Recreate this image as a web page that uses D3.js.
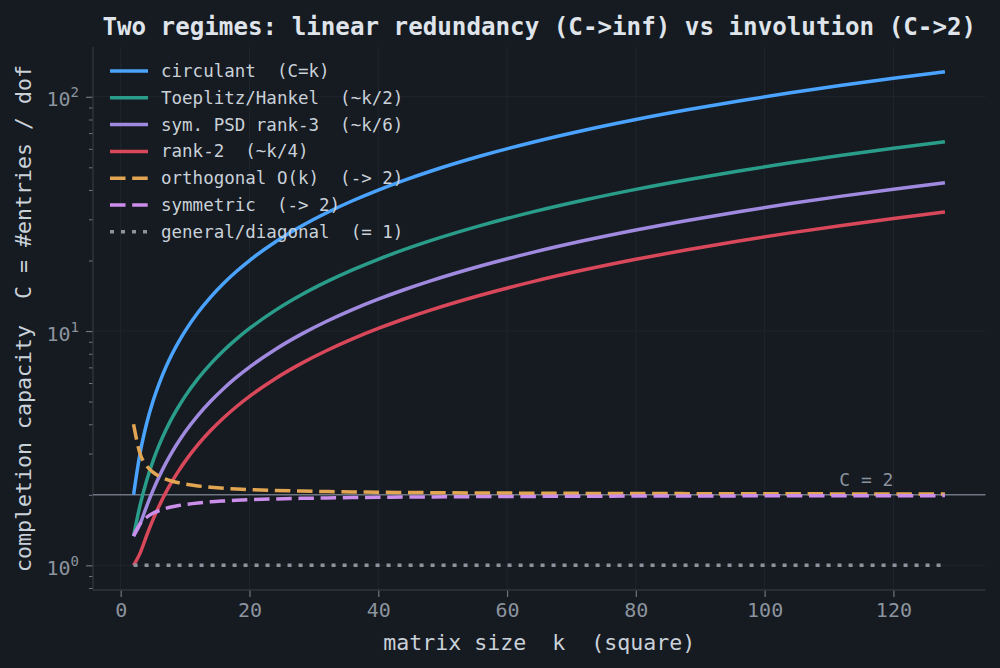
<!DOCTYPE html>
<html>
<head>
<meta charset="utf-8">
<script src="https://cdn.jsdelivr.net/npm/d3@7"></script>
<style>
  html, body { margin: 0; padding: 0; background: #161a21; }
  svg { display: block; }
  text { font-family: "DejaVu Sans Mono", monospace; }
</style>
</head>
<body>
<svg id="chart" width="1000" height="668"></svg>
<script>
// ---- data ----
const kValues = [2,3,4,5,6,7,8,9,10,12,14,16,18,20,24,28,32,36,40,44,48,56,64,72,80,88,96,104,112,120,128];
const circulant = [2,3,4,5,6,7,8,9,10,12,14,16,18,20,24,28,32,36,40,44,48,56,64,72,80,88,96,104,112,120,128];
const toeplitz = [1.333,1.8,2.286,2.778,3.273,3.769,4.267,4.765,5.263,6.261,7.259,8.258,9.257,10.256,12.255,14.255,16.254,18.254,20.253,22.253,24.253,28.252,32.252,36.252,40.252,44.251,48.251,52.251,56.251,60.251,64.251];
const symPsd3 = [1.333,1.5,1.778,2.083,2.4,2.722,3.048,3.375,3.704,4.364,5.026,5.689,6.353,7.018,8.348,9.679,11.011,12.343,13.675,15.008,16.34,19.006,21.672,24.338,27.004,29.67,32.337,35.003,37.67,40.336,43.003];
const rank2 = [1,1.125,1.333,1.5625,1.8,2.042,2.286,2.531,2.778,3.273,3.769,4.267,4.765,5.263,6.261,7.259,8.258,9.257,10.256,11.256,12.255,14.255,16.254,18.254,20.253,22.253,24.253,26.252,28.252,30.252,32.252];
const orthogonal = [4,3,2.667,2.5,2.4,2.333,2.286,2.25,2.222,2.182,2.154,2.133,2.118,2.105,2.087,2.074,2.065,2.057,2.051,2.047,2.043,2.036,2.032,2.028,2.025,2.023,2.021,2.019,2.018,2.017,2.016];
const symmetric = [1.333,1.5,1.6,1.667,1.714,1.75,1.778,1.8,1.818,1.846,1.867,1.882,1.895,1.905,1.92,1.931,1.939,1.946,1.951,1.956,1.959,1.965,1.969,1.973,1.975,1.978,1.979,1.981,1.982,1.983,1.984];
const general = [1,1,1,1,1,1,1,1,1,1,1,1,1,1,1,1,1,1,1,1,1,1,1,1,1,1,1,1,1,1,1];

const seriesNames = ["circulant  (C=k)","Toeplitz/Hankel  (~k/2)","sym. PSD rank-3  (~k/6)","rank-2  (~k/4)","orthogonal O(k)  (-> 2)","symmetric  (-> 2)","general/diagonal  (= 1)"];
const seriesValues = [circulant, toeplitz, symPsd3, rank2, orthogonal, symmetric, general];
const seriesColors = ["#4aa3ff","#2a9d8a","#a08ae0","#d9485a","#e2a653","#cb8eea","#8b949e"];
const seriesDash = [null,null,null,null,"15.5,6.7","15.5,6.7","4,7"];

const xTicks = [0,20,40,60,80,100,120];
const yMajor = [1,10,100];
const yMinor = [0.8,0.9,2,3,4,5,6,7,8,9,20,30,40,50,60,70,80,90];
const refLevel = 2;

const titleText = "Two regimes: linear redundancy (C->inf) vs involution (C->2)";
const xLabel = "matrix size  k  (square)";
const yLabel = "completion capacity  C = #entries / dof";

// ---- layout ----
const L = 93, R = 985.5, T = 47, B = 590;
const svg = d3.select("#chart");
svg.append("rect").attr("width",1000).attr("height",668).attr("fill","#161a21");

const x = d3.scaleLinear().domain([-4.3, 134.3]).range([L, R]);
const y = d3.scaleLog().domain([Math.pow(10,-0.10536), Math.pow(10,2.21257)]).range([B, T]);

// grid
const grid = svg.append("g");
grid.selectAll("line.gx").data(xTicks).join("line")
  .attr("x1", d => x(d)).attr("x2", d => x(d)).attr("y1", T).attr("y2", B)
  .attr("stroke", "#20252d").attr("stroke-width", 1);
grid.selectAll("line.gy").data(yMajor).join("line")
  .attr("x1", L).attr("x2", R).attr("y1", d => y(d)).attr("y2", d => y(d))
  .attr("stroke", "#20252d").attr("stroke-width", 1);

// x axis
const xAxis = d3.axisBottom(x).tickValues(xTicks).tickSize(7).tickPadding(6).tickFormat(d3.format("d"));
const gx = svg.append("g").attr("transform", `translate(0,${B})`).call(xAxis);
gx.select(".domain").remove();
gx.selectAll(".tick line").attr("stroke", "#6e7681").attr("stroke-width", 1.2);
gx.selectAll(".tick text").attr("fill", "#8b949e").attr("font-size", 20).attr("font-family","DejaVu Sans Mono");

// y axis major/minor ticks
const yAxisMinor = d3.axisLeft(y).tickValues(yMinor).tickSize(4).tickFormat("");
const gyMinor = svg.append("g").attr("transform", `translate(${L},0)`).call(yAxisMinor);
gyMinor.select(".domain").remove();
gyMinor.selectAll(".tick line").attr("stroke", "#6e7681").attr("stroke-width", 1);

const yAxisMajor = d3.axisLeft(y).tickValues(yMajor).tickSize(7).tickFormat("");
const gy = svg.append("g").attr("transform", `translate(${L},0)`).call(yAxisMajor);
gy.select(".domain").remove();
gy.selectAll(".tick line").attr("stroke", "#6e7681").attr("stroke-width", 1.2);
gy.selectAll(".tick").each(function(d) {
  const t = d3.select(this).append("text").attr("x", -14).attr("y", 9)
    .attr("text-anchor", "end").attr("fill", "#8b949e").attr("font-size", 20);
  t.append("tspan").text("10");
  t.append("tspan").attr("font-size", 14).attr("dy", -9).text(String(Math.round(Math.log10(d))));
});

// spines
svg.append("line").attr("x1", L).attr("x2", L).attr("y1", T).attr("y2", B).attr("stroke", "#30363d").attr("stroke-width", 1.3);
svg.append("line").attr("x1", L).attr("x2", R).attr("y1", B).attr("y2", B).attr("stroke", "#30363d").attr("stroke-width", 1.3);

// reference line C = 2
svg.append("line").attr("x1", L).attr("x2", R).attr("y1", y(refLevel)).attr("y2", y(refLevel))
  .attr("stroke", "#6e7681").attr("stroke-width", 1.5);
svg.append("text").attr("x", x(120)).attr("y", y(refLevel) - 8.5).attr("text-anchor", "end")
  .attr("fill", "#8b949e").attr("font-size", 18).text("C = " + refLevel);

// series
const line = d3.line().x(d => x(d[0])).y(d => y(d[1])).curve(d3.curveMonotoneX);
seriesValues.forEach((vals, i) => {
  const pts = kValues.map((k, j) => [k, vals[j]]);
  const p = svg.append("path").datum(pts).attr("d", line)
    .attr("fill", "none").attr("stroke", seriesColors[i]).attr("stroke-width", 3.5)
    .attr("stroke-linejoin", "round").attr("stroke-linecap", "butt");
  if (seriesDash[i]) p.attr("stroke-dasharray", seriesDash[i]);
});

// legend
const lg = svg.append("g");
seriesNames.forEach((name, i) => {
  const cy = 71 + i * 26.8;
  const l = lg.append("line").attr("x1", 110).attr("x2", 148).attr("y1", cy).attr("y2", cy)
    .attr("stroke", seriesColors[i]).attr("stroke-width", 3.5);
  if (seriesDash[i]) l.attr("stroke-dasharray", seriesDash[i]);
  lg.append("text").attr("x", 161).attr("y", cy + 6).attr("fill", "#c9d1d9")
    .attr("font-size", 17.5).style("white-space", "pre").text(name);
});

// title & labels
svg.append("text").attr("x", (L + R) / 2).attr("y", 35).attr("text-anchor", "middle")
  .attr("fill", "#dfe4ea").attr("font-size", 24.2).attr("font-weight", "bold")
  .style("white-space", "pre").text(titleText);
svg.append("text").attr("x", (L + R) / 2).attr("y", 650).attr("text-anchor", "middle")
  .attr("fill", "#c9d1d9").attr("font-size", 21.6).style("white-space", "pre").text(xLabel);
svg.append("text").attr("transform", `translate(31,${(T + B) / 2}) rotate(-90)`).attr("text-anchor", "middle")
  .attr("fill", "#c9d1d9").attr("font-size", 21.6).style("white-space", "pre").text(yLabel);
</script>
</body>
</html>
